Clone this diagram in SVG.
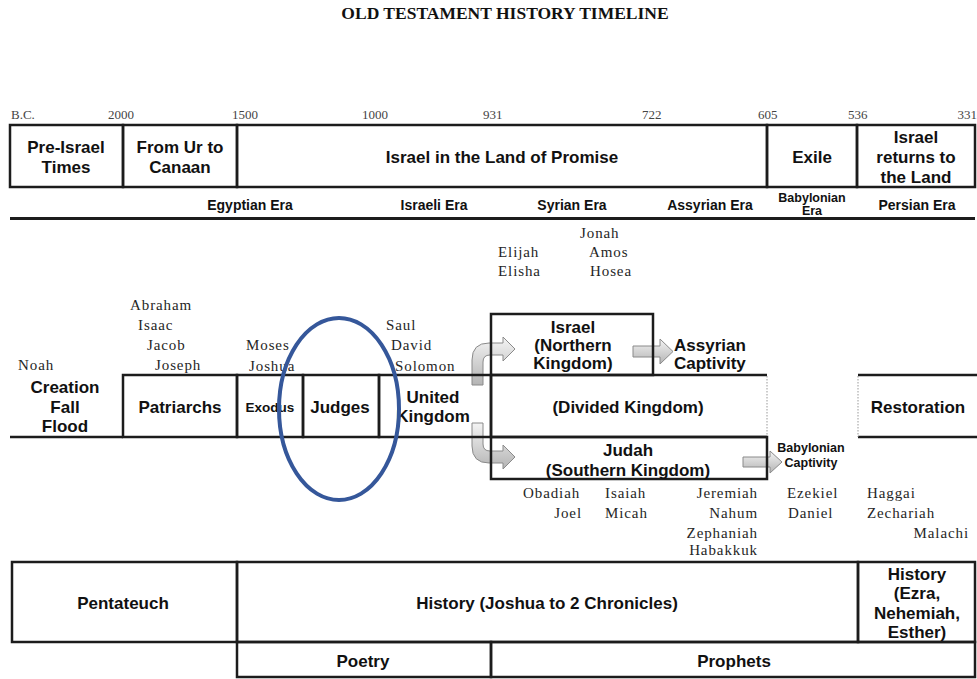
<svg xmlns="http://www.w3.org/2000/svg" width="977" height="679" viewBox="0 0 977 679">
<style>
.bx{fill:none;stroke:#1c1c1c;stroke-width:2.5}
.ln{stroke:#1c1c1c;stroke-width:2.5;fill:none}
.dot{stroke:#999;stroke-width:1;stroke-dasharray:1.5 1.5;fill:none}
.t{font-family:"Liberation Sans",Arial,sans-serif;font-weight:bold;font-size:17px;fill:#111;text-anchor:middle}
.ts{text-anchor:start}
.era{font-family:"Liberation Sans",Arial,sans-serif;font-weight:bold;font-size:14px;fill:#111;text-anchor:middle}
.sm{font-family:"Liberation Sans",Arial,sans-serif;font-weight:bold;font-size:12.5px;fill:#111;text-anchor:middle}
.sr{font-family:"Liberation Serif","Times New Roman",serif;font-size:15px;fill:#262626;letter-spacing:0.9px}
.e{text-anchor:end}
.yr{font-family:"Liberation Serif","Times New Roman",serif;font-size:13px;fill:#444}
.ttl{font-family:"Liberation Serif","Times New Roman",serif;font-weight:bold;font-size:17.5px;fill:#111;text-anchor:middle}
.arr{fill:url(#ag);stroke:#8a8a8a;stroke-width:1}
</style>
<defs>
<linearGradient id="ag" x1="0" y1="0" x2="0" y2="1">
<stop offset="0" stop-color="#f4f4f4"/>
<stop offset="1" stop-color="#b4b4b4"/>
</linearGradient>
</defs>
<rect width="977" height="679" fill="#fff"/>

<text class="ttl" x="505" y="19">OLD TESTAMENT HISTORY TIMELINE</text>

<g id="years" class="yr">
<text x="11" y="119">B.C.</text>
<text x="108" y="119">2000</text>
<text x="232" y="119">1500</text>
<text x="362" y="119">1000</text>
<text x="483" y="119">931</text>
<text x="642" y="119">722</text>
<text x="758" y="119">605</text>
<text x="848" y="119">536</text>
<text x="977" y="119" text-anchor="end">331</text>
</g>

<g id="connectors">
<path class="arr" d="M472,385 L472,360 Q472,343 489,343 L503,343 L503,337 L515,349 L503,361 L503,355 L490,355 Q483,355 483,362 L483,385 Z"/>
<path class="arr" d="M472,423 L483,423 L483,444 Q483,451 490,451 L503,451 L503,445 L515,457 L503,469 L503,463 L489,463 Q472,463 472,446 Z"/>
<path class="arr" d="M633,346 L660,346 L660,339 L673,351.5 L660,364 L660,357 L633,357 Z"/>
<path class="arr" d="M743,457 L770,457 L770,451 L782,462 L770,473 L770,467 L743,467 Z"/>
</g>

<g id="pre-israel"><rect class="bx" x="10" y="125" width="113" height="62"/>
<text class="t" x="66" y="152.5">Pre-Israel</text><text class="t" x="66" y="172.5">Times</text></g>
<g id="ur-canaan"><rect class="bx" x="123" y="125" width="114" height="62"/>
<text class="t" x="180" y="152.5">From Ur to</text><text class="t" x="180" y="172.5">Canaan</text></g>
<g id="land-of-promise"><rect class="bx" x="237" y="125" width="530" height="62"/>
<text class="t" x="502" y="163">Israel in the Land of Promise</text></g>
<g id="exile"><rect class="bx" x="767" y="125" width="90" height="62"/>
<text class="t" x="812" y="163">Exile</text></g>
<g id="returns"><rect class="bx" x="857" y="125" width="118" height="62"/>
<text class="t" x="916" y="143">Israel</text><text class="t" x="916" y="163">returns to</text><text class="t" x="916" y="183">the Land</text></g>

<g id="eras">
<text class="era" x="250" y="210">Egyptian Era</text>
<text class="era" x="434" y="210">Israeli Era</text>
<text class="era" x="572" y="210">Syrian Era</text>
<text class="era" x="710" y="210">Assyrian Era</text>
<text class="sm" x="812" y="202">Babylonian</text>
<text class="sm" x="812" y="215">Era</text>
<text class="era" x="917" y="210">Persian Era</text>
<line x1="10" y1="218.5" x2="975" y2="218.5" stroke="#1c1c1c" stroke-width="3"/>
</g>

<g id="persons" class="sr">
<text x="580" y="238">Jonah</text>
<text x="498" y="257">Elijah</text>
<text x="589" y="257">Amos</text>
<text x="498" y="276">Elisha</text>
<text x="590" y="276">Hosea</text>
<text x="130" y="310">Abraham</text>
<text x="138" y="330">Isaac</text>
<text x="147" y="350">Jacob</text>
<text x="155" y="370">Joseph</text>
<text x="18" y="370">Noah</text>
<text x="246" y="350">Moses</text>
<text x="249" y="371">Joshua</text>
<text x="386" y="330">Saul</text>
<text x="391" y="350">David</text>
<text x="395" y="371">Solomon</text>
</g>

<g id="creation"><line class="ln" x1="10" y1="437" x2="123" y2="437"/>
<text class="t" x="65" y="393">Creation</text><text class="t" x="65" y="413">Fall</text><text class="t" x="65" y="432">Flood</text></g>
<g id="patriarchs"><rect class="bx" x="123" y="375" width="114" height="62"/>
<text class="t" x="180" y="413">Patriarchs</text></g>
<g id="exodus"><rect class="bx" x="237" y="375" width="66" height="62"/>
<text class="t" x="270" y="412" style="font-size:13.5px">Exodus</text></g>
<g id="judges"><rect class="bx" x="303" y="375" width="76" height="62"/>
<text class="t" x="340" y="413">Judges</text></g>
<g id="united-kingdom"><rect class="bx" x="379" y="375" width="112" height="62"/>
<text class="t" x="433" y="403">United</text><text class="t" x="433" y="422">Kingdom</text></g>
<g id="israel-north"><rect class="bx" x="491" y="314" width="162" height="61"/>
<text class="t" x="573" y="333">Israel</text><text class="t" x="573" y="351">(Northern</text><text class="t" x="573" y="369">Kingdom)</text></g>
<g id="divided-kingdom">
<path class="ln" d="M767,375 L491,375 L491,437 L767,437"/>
<line class="dot" x1="767" y1="376" x2="767" y2="437"/>
<text class="t" x="628" y="413">(Divided Kingdom)</text></g>
<g id="judah"><rect class="bx" x="491" y="437" width="276" height="42"/>
<text class="t" x="628" y="456">Judah</text><text class="t" x="628" y="476">(Southern Kingdom)</text></g>
<g id="assyrian-captivity">
<text class="t ts" x="674" y="351">Assyrian</text><text class="t ts" x="674" y="369">Captivity</text></g>
<g id="babylonian-captivity">
<text class="sm" x="811" y="452">Babylonian</text><text class="sm" x="811" y="467">Captivity</text></g>
<g id="restoration">
<path class="ln" d="M858,375 L977,375 M858,437 L977,437"/>
<line class="dot" x1="858" y1="376" x2="858" y2="437"/>
<text class="t" x="918" y="413">Restoration</text></g>

<g id="prophets-list" class="sr">
<text x="523" y="498">Obadiah</text>
<text x="605" y="498">Isaiah</text>
<text class="e" x="758" y="498">Jeremiah</text>
<text x="787" y="498">Ezekiel</text>
<text x="867" y="498">Haggai</text>
<text class="e" x="582" y="518">Joel</text>
<text x="605" y="518">Micah</text>
<text class="e" x="758" y="518">Nahum</text>
<text x="788" y="518">Daniel</text>
<text x="867" y="518">Zechariah</text>
<text class="e" x="758" y="538">Zephaniah</text>
<text class="e" x="969" y="538">Malachi</text>
<text class="e" x="758" y="555">Habakkuk</text>
</g>

<g id="pentateuch"><rect class="bx" x="12" y="562" width="225" height="80"/>
<text class="t" x="123" y="609">Pentateuch</text></g>
<g id="history"><rect class="bx" x="237" y="562" width="621" height="80"/>
<text class="t" x="547" y="609">History (Joshua to 2 Chronicles)</text></g>
<g id="history-ezra"><rect class="bx" x="858" y="562" width="117" height="80"/>
<text class="t" x="917" y="580">History</text><text class="t" x="917" y="599">(Ezra,</text><text class="t" x="917" y="619">Nehemiah,</text><text class="t" x="917" y="638">Esther)</text></g>
<g id="poetry"><rect class="bx" x="237" y="642" width="254" height="35"/>
<text class="t" x="363" y="667">Poetry</text></g>
<g id="prophets"><rect class="bx" x="491" y="642" width="484" height="35"/>
<text class="t" x="734" y="667">Prophets</text></g>

<g id="highlight">
<ellipse cx="339" cy="409" rx="60" ry="91" fill="none" stroke="#35579a" stroke-width="4"/>
</g>
</svg>
